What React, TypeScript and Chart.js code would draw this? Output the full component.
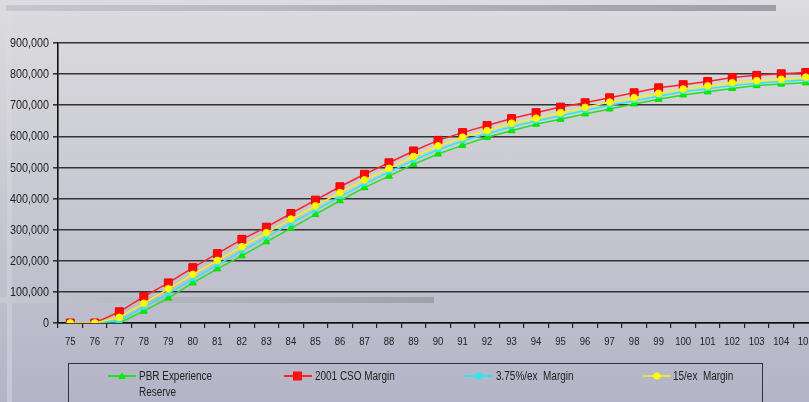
import React, { useEffect, useRef } from "react";
import { Chart, registerables } from "chart.js";

Chart.register(...registerables);

const categories = [
  "75", "76", "77", "78", "79", "80", "81", "82", "83", "84", "85", "86", "87", "88", "89", "90",
  "91", "92", "93", "94", "95", "96", "97", "98", "99", "100", "101", "102", "103", "104", "105",
];

const pbrExperienceReserve = [
  0, 0, 0, 38000, 80000, 129000, 174000, 216000, 261000, 304000, 349000, 393000, 435000, 472000,
  510000, 543000, 571000, 597000, 618000, 639000, 655000, 672000, 688000, 704000, 719000, 733000,
  743000, 754000, 763000, 768000, 772000,
];

const cso2001Margin = [
  0, 0, 36000, 85000, 129000, 178000, 223000, 269000, 308000, 352000, 395000, 438000, 478000, 515000,
  553000, 587000, 612000, 635000, 657000, 676000, 694000, 708000, 724000, 740000, 756000, 766000,
  776000, 789000, 796000, 801000, 805000,
];

const ex375Margin = [
  0, 0, 8000, 50000, 95000, 141000, 187000, 231000, 276000, 320000, 363000, 406000, 447000, 485000,
  523000, 557000, 585000, 608000, 631000, 649000, 666000, 683000, 700000, 714000, 729000, 743000,
  753000, 763000, 771000, 776000, 781000,
];

const ex15Margin = [
  0, 0, 18000, 63000, 110000, 156000, 201000, 245000, 290000, 334000, 376000, 419000, 460000, 497000,
  535000, 569000, 597000, 618000, 642000, 658000, 676000, 693000, 710000, 724000, 738000, 752000,
  762000, 772000, 779000, 783000, 790000,
];

const seriesLabels = ["PBR Experience Reserve", "2001 CSO Margin", "3.75%/ex  Margin", "15/ex  Margin"];

const yMin = 0;
const yMax = 900000;
const yStep = 100000;

const FONT = "'Liberation Sans', Arial, sans-serif";
const TEXT = "#222";
const NARROW = 0.83;

const GREEN = "#22e022";
const RED = "#ff2424";
const CYAN = "#2ee6ee";
const YELLOW = "#f2f21e";

// Draws the axes' own tick labels (from the scales' ticks and pixel mapping) in a condensed look.
const narrowTickLabels = {
  id: "narrowTickLabels",
  afterDraw(chart: any) {
    const ctx = chart.ctx as CanvasRenderingContext2D;
    const xs = chart.scales.x;
    const ys = chart.scales.y;
    ctx.save();
    ctx.fillStyle = TEXT;
    ctx.textBaseline = "middle";
    ctx.font = `13px ${FONT}`;
    ctx.textAlign = "right";
    ys.ticks.forEach((t: any, i: number) => {
      const py = ys.getPixelForTick(i);
      ctx.save();
      ctx.translate(ys.right - 9, py + 0.5);
      ctx.scale(NARROW, 1);
      ctx.fillText(String(t.label), 0, 0);
      ctx.restore();
    });
    ctx.font = `11.5px ${FONT}`;
    ctx.textAlign = "center";
    xs.ticks.forEach((t: any, i: number) => {
      const px = xs.getPixelForTick(i);
      ctx.save();
      ctx.translate(px, xs.top + 19);
      ctx.scale(NARROW, 1);
      ctx.fillText(String(t.label), 0, 0);
      ctx.restore();
    });
    ctx.restore();
  },
};

function LegendMarker({ kind, color }: { kind: string; color: string }) {
  let mark: React.ReactNode = null;
  if (kind === "triangle") mark = <polygon points="14,1.5 18,8 10,8" fill="#00ee00" />;
  if (kind === "rect") mark = <rect x="9" y="0.5" width="9" height="9" fill="#ff1010" />;
  if (kind === "star")
    mark = (
      <g stroke={color} strokeWidth="1.6">
        <line x1="14" y1="1" x2="14" y2="9" />
        <line x1="10.5" y1="2" x2="17.5" y2="8" />
        <line x1="17.5" y1="2" x2="10.5" y2="8" />
      </g>
    );
  if (kind === "circle") mark = <circle cx="14" cy="5" r="3.6" fill="#ffff00" />;
  return (
    <svg width="28" height="10" style={{ display: "block" }}>
      <line x1="0" y1="5" x2="28" y2="5" stroke={color} strokeWidth="2" />
      {mark}
    </svg>
  );
}

export default function App() {
  const canvasRef = useRef<HTMLCanvasElement | null>(null);

  useEffect(() => {
    if (!canvasRef.current) return;
    const chart = new Chart(canvasRef.current, {
      type: "line",
      data: {
        labels: categories,
        datasets: [
          {
            label: seriesLabels[0],
            data: pbrExperienceReserve,
            borderColor: GREEN,
            borderWidth: 1.5,
            pointStyle: "triangle",
            pointRadius: 4,
            pointBackgroundColor: "#00ee00",
            pointBorderColor: "#00dd00",
            pointBorderWidth: 1,
            order: 3,
          },
          {
            label: seriesLabels[1],
            data: cso2001Margin,
            borderColor: RED,
            borderWidth: 1.5,
            pointStyle: "rect",
            pointRadius: 5.6,
            pointBackgroundColor: "#ff0a0a",
            pointBorderColor: "#ee0000",
            pointBorderWidth: 1,
            order: 1,
          },
          {
            label: seriesLabels[2],
            data: ex375Margin,
            borderColor: CYAN,
            borderWidth: 1.5,
            pointStyle: "triangle",
            pointRadius: 3.5,
            pointBackgroundColor: CYAN,
            pointBorderColor: CYAN,
            pointBorderWidth: 1,
            order: 2,
          },
          {
            label: seriesLabels[3],
            data: ex15Margin,
            borderColor: YELLOW,
            borderWidth: 1.5,
            pointStyle: "circle",
            pointRadius: 3.4,
            pointBackgroundColor: "#ffff00",
            pointBorderColor: "#f0f000",
            pointBorderWidth: 1,
            order: 0,
          },
        ],
      },
      options: {
        animation: false,
        responsive: true,
        maintainAspectRatio: false,
        layout: { padding: { top: 43, right: 12, left: 0, bottom: 0 } },
        plugins: {
          legend: { display: false },
          tooltip: { enabled: false },
        },
        elements: { line: { tension: 0 } },
        scales: {
          x: {
            type: "category",
            offset: true,
            grid: {
              display: true,
              drawOnChartArea: false,
              drawTicks: true,
              tickLength: 5,
              offset: true,
              color: "#222",
              lineWidth: 1.2,
            },
            border: { display: true, color: "#111", width: 1.6 },
            ticks: { display: false, autoSkip: false, maxRotation: 0 },
            afterFit: (s: any) => {
              s.height = 79;
            },
          },
          y: {
            min: yMin,
            max: yMax,
            ticks: {
              display: false,
              stepSize: yStep,
              callback: (v: any) => Number(v).toLocaleString("en-US"),
            },
            grid: { color: "#333", lineWidth: 1.6, tickLength: 5, drawTicks: true },
            border: { display: true, color: "#111", width: 1.6 },
            afterFit: (s: any) => {
              s.width = 58;
            },
          },
        },
      },
      plugins: [narrowTickLabels],
    });
    return () => chart.destroy();
  }, []);

  const legendItems = [
    { kind: "triangle", color: GREEN, lineX: 108, textX: 139, lines: ["PBR Experience", "Reserve"] },
    { kind: "rect", color: RED, lineX: 284, textX: 315, lines: ["2001 CSO Margin"] },
    { kind: "star", color: CYAN, lineX: 465, textX: 496, lines: ["3.75%/ex  Margin"] },
    { kind: "circle", color: "#e4e43a", lineX: 643, textX: 673, lines: ["15/ex  Margin"] },
  ];

  return (
    <div
      style={{
        position: "fixed",
        left: 0,
        top: 0,
        width: 809,
        height: 402,
        overflow: "hidden",
        background: "linear-gradient(to bottom, #dcdce0 0%, #d2d2d8 25%, #c4c4d0 60%, #b4b4c8 100%)",
        fontFamily: FONT,
      }}
    >
      {/* decorative slide bars */}
      <div
        style={{
          position: "absolute",
          left: 6,
          top: 5,
          width: 770,
          height: 6,
          background: "linear-gradient(to right, #c6c6ce, #9e9ea8)",
        }}
      />
      <div
        style={{
          position: "absolute",
          left: 7,
          top: 11,
          width: 5,
          height: 391,
          background: "linear-gradient(to bottom, rgba(255,255,255,0.03), rgba(255,255,255,0.25))",
        }}
      />
      <div
        style={{
          position: "absolute",
          left: 0,
          top: 297,
          width: 434,
          height: 6,
          background: "linear-gradient(to right, #c8c8d0, #b4b4bc 40%, #a0a0a8)",
        }}
      />
      <div style={{ position: "absolute", left: 0, top: 0, width: 830, height: 402 }}>
        <canvas ref={canvasRef} />
      </div>
      {/* legend */}
      <div
        style={{
          position: "absolute",
          left: 68,
          top: 363,
          width: 695,
          height: 60,
          border: "1.5px solid #333",
          boxSizing: "border-box",
        }}
      />
      {legendItems.map((it, i) => (
        <React.Fragment key={i}>
          <div style={{ position: "absolute", left: it.lineX, top: 371 }}>
            <LegendMarker kind={it.kind} color={it.color} />
          </div>
          <div
            style={{
              position: "absolute",
              left: it.textX,
              top: 368,
              fontSize: 12,
              lineHeight: "16px",
              color: TEXT,
              whiteSpace: "pre",
              transform: `scaleX(${NARROW})`,
              transformOrigin: "0 0",
            }}
          >
            {it.lines.map((l, j) => (
              <div key={j}>{l}</div>
            ))}
          </div>
        </React.Fragment>
      ))}
    </div>
  );
}
